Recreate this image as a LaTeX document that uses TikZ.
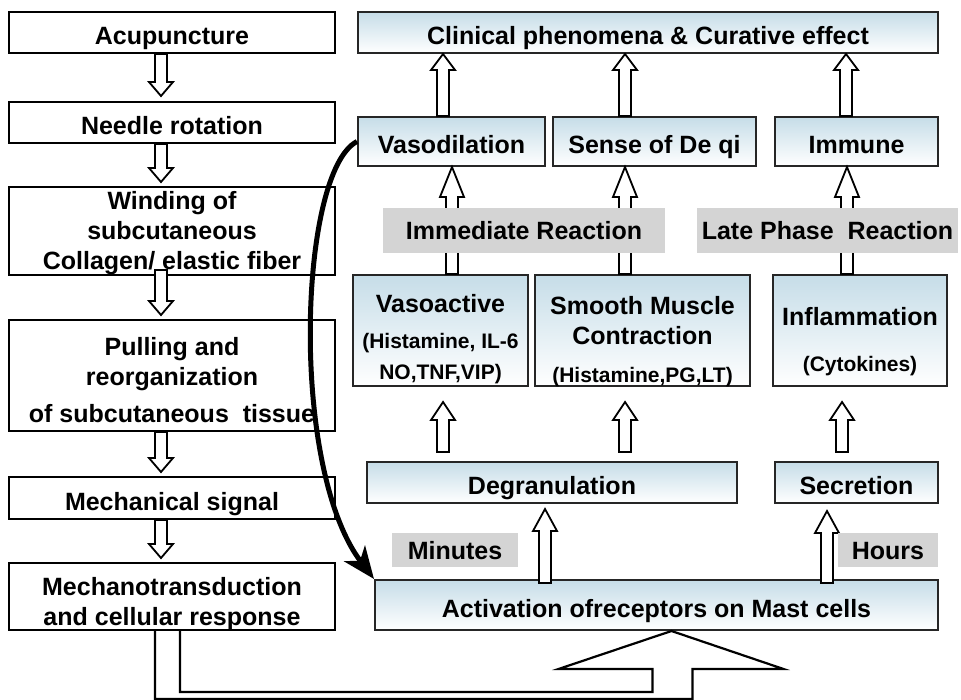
\documentclass[tikz,border=0pt]{standalone}
\usepackage{fontspec}
\setmainfont{Liberation Sans}
\usetikzlibrary{arrows.meta,calc}
\definecolor{boxblue}{RGB}{198,221,232}
\definecolor{taggray}{RGB}{212,212,212}
\newcommand{\bigtxt}{\fontsize{25}{30}\selectfont\bfseries}
\newcommand{\smalltxt}{\fontsize{21}{25}\selectfont\bfseries}
% hollow block arrows: x, from, to, head length
\newcommand{\hollowup}[4]{%
  \draw[hollow] let \p1=(#2), \p2=(#3) in
    (#1pt-6pt,\y1) -- (#1pt-6pt,\y2-#4pt) -- (#1pt-12pt,\y2-#4pt) -- (#1pt,\y2)
    -- (#1pt+12pt,\y2-#4pt) -- (#1pt+6pt,\y2-#4pt) -- (#1pt+6pt,\y1) -- cycle;}
\newcommand{\hollowdown}[4]{%
  \draw[hollow] let \p1=(#2), \p2=(#3) in
    (#1pt-6pt,\y1) -- (#1pt-6pt,\y2+#4pt) -- (#1pt-12pt,\y2+#4pt) -- (#1pt,\y2)
    -- (#1pt+12pt,\y2+#4pt) -- (#1pt+6pt,\y2+#4pt) -- (#1pt+6pt,\y1) -- cycle;}

\begin{document}
\begin{tikzpicture}[x=1pt,y=-1pt,
	lbox/.style={draw, line width=2pt, fill=white, minimum width=326pt, inner sep=0pt, align=center, font=\bigtxt},
	rbox/.style={draw=black!85, line width=2pt, top color=boxblue, bottom color=white, inner sep=0pt, align=center, font=\bigtxt},
	tag/.style={fill=taggray, inner sep=0pt, font=\bigtxt, text height=19pt, text depth=0pt},
	one/.style={text height=24pt, text depth=0pt},
	low/.style={text height=#1pt, text depth=0pt},
	hollow/.style={draw, line width=1.8pt, fill=white, line join=miter},
	curve/.style={line width=5pt, -{Stealth[length=32pt,width=26pt,inset=9pt]}}]
	\useasboundingbox[fill=white] (0,0) rectangle (961,700);
	
	% mechanical chain
	\node[lbox, one, minimum height=41pt] (acu) at (172,32.5) {Acupuncture};
	\node[lbox, one, minimum height=41pt] (needle) at (172,122.5) {Needle rotation};
	\node[lbox, low=78, minimum height=88pt] (wind) at (172,231) {Winding of\\subcutaneous\\Collagen/ elastic fiber};
	\node[lbox, low=93, minimum height=111pt] (pull) at (172,375.5) {Pulling and\\reorganization\\[7pt]of subcutaneous\ \ tissue};
	\node[lbox, one, minimum height=42pt] (signal) at (172,498) {Mechanical signal};
	\node[lbox, low=57, minimum height=67pt] (mechano) at (172,596.5) {Mechanotransduction\\and cellular response};
	
	% mast cell side
	\node[rbox, one, minimum width=580pt, minimum height=41pt] (clin) at (648,32.5) {Clinical phenomena \& Curative effect};
	\node[rbox, one, minimum width=187pt, minimum height=49pt] (vasod) at (451.5,141.5) {Vasodilation};
	\node[rbox, one, minimum width=203pt, minimum height=49pt] (deqi) at (654.5,141.5) {Sense of De qi};
	\node[rbox, one, minimum width=163pt, minimum height=49pt] (immune) at (856.5,141.5) {Immune};
	\node[rbox, low=99, minimum width=175pt, minimum height=111pt] (vasoa) at (440.5,330.5)
		{Vasoactive\\[5pt]{\smalltxt (Histamine, IL-6}\\[2pt]{\smalltxt NO,TNF,VIP)}};
	\node[rbox, low=103, minimum width=215pt, minimum height=111pt] (smooth) at (642.5,330.5)
		{Smooth Muscle\\[1pt]Contraction\\[7pt]{\smalltxt (Histamine,PG,LT)}};
	\node[rbox, low=83, minimum width=174pt, minimum height=111pt] (inflam) at (860,330.5)
		{Inflammation\\[16pt]{\smalltxt (Cytokines)}};
	\node[rbox, one, minimum width=370pt, minimum height=41pt] (degran) at (552,482.5) {Degranulation};
	\node[rbox, one, minimum width=163pt, minimum height=41pt] (secr) at (856.5,482.5) {Secretion};
	\node[rbox, one, minimum width=563pt, minimum height=50pt] (act) at (656.5,605) {Activation ofreceptors on Mast cells};
	
	% left column arrows
	\hollowdown{161}{acu.south}{$(needle.north)+(0,-5)$}{14}
	\hollowdown{161}{needle.south}{$(wind.north)+(0,-4)$}{14}
	\hollowdown{161}{$(wind.south)+(0,-6)$}{$(pull.north)+(0,-4)$}{14}
	\hollowdown{161}{pull.south}{$(signal.north)+(0,-4)$}{14}
	\hollowdown{161}{signal.south}{$(mechano.north)+(0,-4)$}{14}
	
	% right side arrows
	\hollowup{443}{vasod.north}{clin.south}{16}
	\hollowup{625}{deqi.north}{clin.south}{16}
	\hollowup{846}{immune.north}{clin.south}{16}
	\hollowup{452}{vasoa.north}{vasod.south}{30}
	\hollowup{625}{smooth.north}{deqi.south}{30}
	\hollowup{847}{inflam.north}{immune.south}{30}
	\hollowup{443}{$(degran.north)+(0,-9)$}{$(vasoa.south)+(0,15)$}{18}
	\hollowup{625}{$(degran.north)+(0,-9)$}{$(smooth.south)+(0,15)$}{18}
	\hollowup{842}{$(secr.north)+(0,-9)$}{$(inflam.south)+(0,15)$}{18}
	\hollowup{545}{$(act.north)+(0,4)$}{$(degran.south)+(0,5)$}{22}
	\hollowup{827}{$(act.north)+(0,4)$}{$(secr.south)+(0,7)$}{22}
	
	% timing tags
	\node[tag, minimum width=282pt, minimum height=45pt] (immed) at (524,230.5) {Immediate Reaction};
	\node[tag, minimum width=261pt, minimum height=45pt] (late) at (827.5,230.5) {Late Phase\ \ Reaction};
	\node[tag, minimum width=126pt, minimum height=34pt] (minutes) at (455,549.5) {Minutes};
	\node[tag, minimum width=100pt, minimum height=34pt] (hours) at (888,549.5) {Hours};
	
	% feedback to mast cells
	\draw[curve] (vasod.west) .. controls +(-58,30) and +(-85,-112) .. (act.north west);
	\draw[hollow, line width=2.2pt] let \p1=(mechano.south), \p2=(act.south) in
		(\x1-17pt,\y1) -- (\x1-17pt,-699pt) -- (\x2+36pt,-699pt) -- (\x2+36pt,\y2-38pt)
		-- (\x2+127pt,\y2-38pt) -- (\x2+15pt,\y2) -- (\x2-98pt,\y2-38pt) -- (\x2-4pt,\y2-38pt)
		-- (\x2-4pt,-692pt) -- (\x1+8pt,-692pt) -- (\x1+8pt,\y1);
\end{tikzpicture}
\end{document}
